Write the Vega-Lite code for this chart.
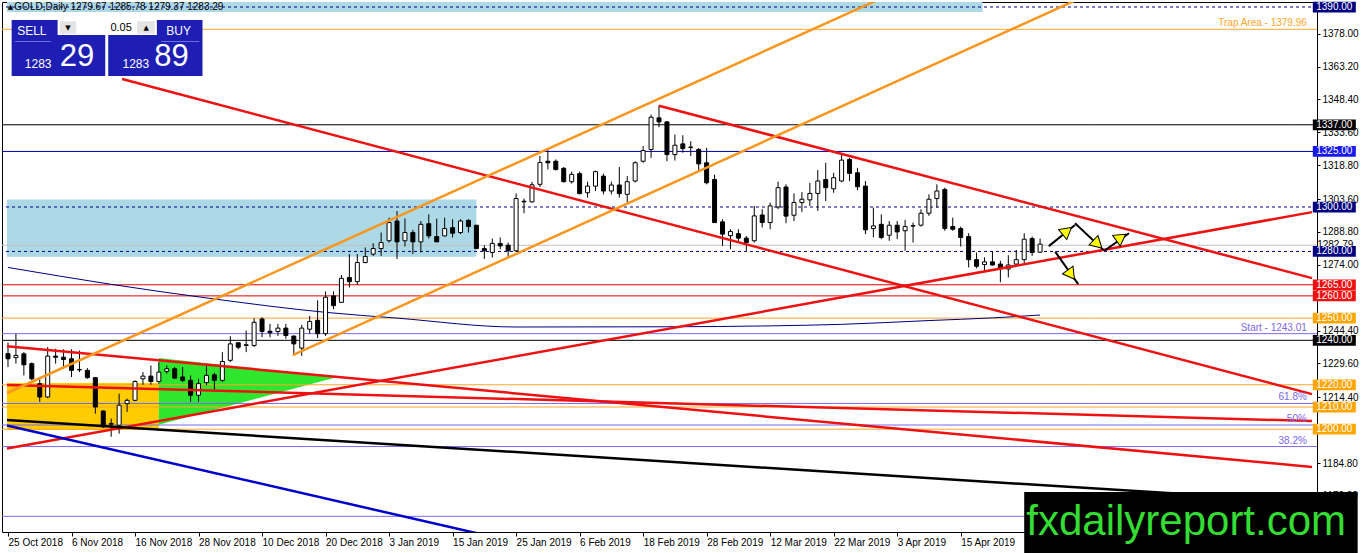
{
"$schema":"https://vega.github.io/schema/vega-lite/v6.json",
"width":1315,"height":530,
"autosize":{"type":"none"},
"padding":{"left":2,"top":2,"right":45,"bottom":21},
"background":"white",
"config":{"view":{"stroke":"black","strokeWidth":1},"font":"Liberation Sans","axis":{"grid":false,"domain":false,"labelColor":"black","tickColor":"black","labelFont":"Liberation Sans","labelFontSize":10,"labelOverlap":false},"axisY":{"labelOverlap":false},"axisX":{"labelOverlap":false}},
"datasets":{
"bars":[
{"i":0,"o":1234.0,"h":1239.0,"l":1228.0,"c":1231.7},{"i":1,"o":1232.2,"h":1242.9,"l":1229.5,"c":1233.2},{"i":2,"o":1233.9,"h":1234.7,"l":1224.2,"c":1229.0},{"i":3,"o":1229.5,"h":1230.0,"l":1222.0,"c":1222.7},{"i":4,"o":1220.5,"h":1222.7,"l":1212.3,"c":1214.5},{"i":5,"o":1214.5,"h":1237.0,"l":1214.0,"c":1232.9},{"i":6,"o":1232.9,"h":1236.2,"l":1229.5,"c":1232.4},{"i":7,"o":1232.4,"h":1236.0,"l":1227.2,"c":1231.4},{"i":8,"o":1231.7,"h":1236.0,"l":1223.5,"c":1226.5},{"i":9,"o":1226.7,"h":1235.4,"l":1225.7,"c":1226.9},
{"i":10,"o":1226.5,"h":1227.5,"l":1222.7,"c":1223.2},{"i":11,"o":1223.2,"h":1223.5,"l":1207.0,"c":1210.0},{"i":12,"o":1208.2,"h":1208.5,"l":1200.6,"c":1201.1},{"i":13,"o":1202.2,"h":1204.8,"l":1196.6,"c":1202.6},{"i":14,"o":1201.8,"h":1216.0,"l":1198.0,"c":1210.8},{"i":15,"o":1211.5,"h":1213.8,"l":1207.8,"c":1213.0},{"i":16,"o":1213.0,"h":1222.0,"l":1212.6,"c":1221.5},{"i":17,"o":1222.7,"h":1225.7,"l":1220.0,"c":1223.9},{"i":18,"o":1223.9,"h":1228.7,"l":1220.0,"c":1221.5},{"i":19,"o":1221.5,"h":1230.2,"l":1220.5,"c":1225.7},
{"i":20,"o":1226.0,"h":1228.7,"l":1225.0,"c":1227.2},{"i":21,"o":1227.2,"h":1228.0,"l":1222.7,"c":1223.0},{"i":22,"o":1223.5,"h":1228.0,"l":1221.2,"c":1222.0},{"i":23,"o":1222.0,"h":1224.2,"l":1212.3,"c":1215.3},{"i":24,"o":1215.3,"h":1222.7,"l":1212.3,"c":1220.5},{"i":25,"o":1221.0,"h":1229.5,"l":1219.8,"c":1224.2},{"i":26,"o":1224.5,"h":1225.4,"l":1216.8,"c":1222.0},{"i":27,"o":1222.0,"h":1234.7,"l":1221.2,"c":1230.5},{"i":28,"o":1231.0,"h":1241.9,"l":1230.2,"c":1238.4},{"i":29,"o":1238.9,"h":1239.2,"l":1236.0,"c":1236.9},
{"i":30,"o":1238.0,"h":1244.4,"l":1234.7,"c":1237.7},{"i":31,"o":1237.7,"h":1250.0,"l":1237.0,"c":1248.1},{"i":32,"o":1249.6,"h":1250.4,"l":1241.4,"c":1244.0},{"i":33,"o":1244.1,"h":1247.4,"l":1241.4,"c":1243.4},{"i":34,"o":1244.0,"h":1247.4,"l":1242.0,"c":1245.5},{"i":35,"o":1245.5,"h":1247.4,"l":1240.7,"c":1242.2},{"i":36,"o":1241.9,"h":1242.2,"l":1233.2,"c":1238.4},{"i":37,"o":1236.5,"h":1247.0,"l":1233.0,"c":1245.5},{"i":38,"o":1245.0,"h":1251.0,"l":1243.0,"c":1248.5},{"i":39,"o":1249.0,"h":1258.0,"l":1241.0,"c":1243.0},
{"i":40,"o":1243.0,"h":1262.0,"l":1242.0,"c":1259.4},{"i":41,"o":1260.0,"h":1262.0,"l":1254.0,"c":1255.6},{"i":42,"o":1257.1,"h":1269.4,"l":1257.1,"c":1267.9},{"i":43,"o":1268.3,"h":1278.8,"l":1263.8,"c":1266.4},{"i":44,"o":1266.4,"h":1278.8,"l":1265.0,"c":1275.0},{"i":45,"o":1275.0,"h":1281.8,"l":1274.7,"c":1277.7},{"i":46,"o":1278.8,"h":1283.7,"l":1278.0,"c":1281.3},{"i":47,"o":1281.3,"h":1288.5,"l":1278.0,"c":1284.0},{"i":48,"o":1284.8,"h":1295.2,"l":1284.0,"c":1293.0},{"i":49,"o":1293.7,"h":1298.2,"l":1276.6,"c":1284.3},
{"i":50,"o":1284.8,"h":1294.8,"l":1282.2,"c":1288.5},{"i":51,"o":1288.5,"h":1289.7,"l":1278.8,"c":1284.3},{"i":52,"o":1284.3,"h":1293.7,"l":1279.5,"c":1292.2},{"i":53,"o":1292.5,"h":1296.7,"l":1285.8,"c":1287.0},{"i":54,"o":1286.7,"h":1294.8,"l":1284.3,"c":1284.3},{"i":55,"o":1287.0,"h":1295.2,"l":1286.7,"c":1290.3},{"i":56,"o":1290.7,"h":1294.5,"l":1286.3,"c":1288.2},{"i":57,"o":1288.5,"h":1294.5,"l":1287.8,"c":1293.7},{"i":58,"o":1294.0,"h":1294.5,"l":1288.5,"c":1291.2},{"i":59,"o":1291.8,"h":1291.9,"l":1281.0,"c":1281.3},
{"i":60,"o":1281.3,"h":1282.8,"l":1276.6,"c":1280.3},{"i":61,"o":1279.5,"h":1285.8,"l":1277.3,"c":1283.6},{"i":62,"o":1283.6,"h":1286.3,"l":1281.0,"c":1282.5},{"i":63,"o":1282.8,"h":1284.0,"l":1277.3,"c":1280.3},{"i":64,"o":1280.3,"h":1306.1,"l":1279.8,"c":1303.8},{"i":65,"o":1302.3,"h":1303.8,"l":1297.2,"c":1302.6},{"i":66,"o":1302.3,"h":1311.3,"l":1302.0,"c":1310.0},{"i":67,"o":1310.2,"h":1323.0,"l":1309.0,"c":1320.0},{"i":68,"o":1320.6,"h":1325.9,"l":1316.9,"c":1319.9},{"i":69,"o":1320.6,"h":1321.4,"l":1316.4,"c":1316.9},
{"i":70,"o":1317.4,"h":1318.0,"l":1311.0,"c":1311.4},{"i":71,"o":1311.4,"h":1315.9,"l":1310.5,"c":1314.7},{"i":72,"o":1315.0,"h":1315.9,"l":1305.7,"c":1306.0},{"i":73,"o":1306.4,"h":1311.4,"l":1304.2,"c":1309.4},{"i":74,"o":1309.4,"h":1316.4,"l":1307.2,"c":1315.9},{"i":75,"o":1313.9,"h":1315.0,"l":1305.7,"c":1307.2},{"i":76,"o":1307.2,"h":1311.4,"l":1305.7,"c":1309.9},{"i":77,"o":1309.9,"h":1318.0,"l":1304.2,"c":1306.0},{"i":78,"o":1305.7,"h":1313.9,"l":1302.0,"c":1311.4},{"i":79,"o":1311.7,"h":1320.6,"l":1311.0,"c":1319.9},
{"i":80,"o":1320.6,"h":1327.4,"l":1319.9,"c":1325.4},{"i":81,"o":1325.9,"h":1341.6,"l":1322.1,"c":1340.4},{"i":82,"o":1340.1,"h":1345.8,"l":1335.9,"c":1338.3},{"i":83,"o":1338.3,"h":1338.6,"l":1320.6,"c":1323.6},{"i":84,"o":1323.6,"h":1332.6,"l":1320.9,"c":1327.8},{"i":85,"o":1328.4,"h":1332.3,"l":1324.4,"c":1326.3},{"i":86,"o":1326.8,"h":1329.6,"l":1322.9,"c":1327.0},{"i":87,"o":1325.9,"h":1326.5,"l":1315.9,"c":1319.4},{"i":88,"o":1319.9,"h":1326.6,"l":1310.2,"c":1310.9},{"i":89,"o":1312.4,"h":1314.6,"l":1293.0,"c":1293.0},
{"i":90,"o":1293.3,"h":1294.5,"l":1282.5,"c":1287.8},{"i":91,"o":1287.1,"h":1290.0,"l":1281.0,"c":1289.0},{"i":92,"o":1288.0,"h":1290.0,"l":1284.0,"c":1286.0},{"i":93,"o":1286.0,"h":1287.0,"l":1280.3,"c":1284.0},{"i":94,"o":1284.8,"h":1300.5,"l":1284.0,"c":1296.0},{"i":95,"o":1296.4,"h":1299.0,"l":1290.8,"c":1293.0},{"i":96,"o":1293.0,"h":1302.0,"l":1290.0,"c":1300.5},{"i":97,"o":1300.0,"h":1311.4,"l":1299.0,"c":1308.7},{"i":98,"o":1309.0,"h":1310.2,"l":1292.7,"c":1295.9},{"i":99,"o":1296.3,"h":1306.1,"l":1293.7,"c":1302.0},
{"i":100,"o":1302.0,"h":1306.7,"l":1297.8,"c":1303.5},{"i":101,"o":1303.2,"h":1310.9,"l":1300.5,"c":1306.1},{"i":102,"o":1306.1,"h":1316.6,"l":1298.2,"c":1311.7},{"i":103,"o":1312.4,"h":1319.9,"l":1302.7,"c":1308.7},{"i":104,"o":1308.2,"h":1315.4,"l":1306.4,"c":1313.2},{"i":105,"o":1311.7,"h":1324.4,"l":1311.2,"c":1321.1},{"i":106,"o":1321.4,"h":1322.1,"l":1311.7,"c":1315.1},{"i":107,"o":1315.4,"h":1317.6,"l":1307.6,"c":1309.1},{"i":108,"o":1309.4,"h":1311.7,"l":1287.8,"c":1289.7},{"i":109,"o":1290.3,"h":1299.7,"l":1286.3,"c":1291.5},
{"i":110,"o":1292.2,"h":1296.7,"l":1285.5,"c":1286.3},{"i":111,"o":1287.3,"h":1293.7,"l":1284.8,"c":1291.8},{"i":112,"o":1291.8,"h":1293.7,"l":1285.5,"c":1288.8},{"i":113,"o":1289.3,"h":1294.2,"l":1280.3,"c":1291.2},{"i":114,"o":1291.4,"h":1293.0,"l":1284.0,"c":1291.6},{"i":115,"o":1291.8,"h":1299.0,"l":1291.2,"c":1297.2},{"i":116,"o":1297.2,"h":1305.7,"l":1296.0,"c":1303.5},{"i":117,"o":1303.8,"h":1310.2,"l":1299.7,"c":1307.2},{"i":118,"o":1307.9,"h":1308.7,"l":1289.3,"c":1290.3},{"i":119,"o":1291.2,"h":1295.2,"l":1289.3,"c":1290.0},
{"i":120,"o":1290.3,"h":1291.2,"l":1282.2,"c":1286.3},{"i":121,"o":1286.7,"h":1288.2,"l":1272.8,"c":1276.3},{"i":122,"o":1276.3,"h":1279.5,"l":1272.4,"c":1273.3},{"i":123,"o":1274.1,"h":1277.3,"l":1271.3,"c":1275.3},{"i":124,"o":1275.3,"h":1279.8,"l":1273.6,"c":1273.9},{"i":125,"o":1274.3,"h":1275.8,"l":1266.1,"c":1272.4},{"i":126,"o":1272.1,"h":1278.3,"l":1268.3,"c":1273.9},{"i":127,"o":1274.3,"h":1280.7,"l":1273.6,"c":1276.3},{"i":128,"o":1276.3,"h":1288.2,"l":1274.8,"c":1285.5},{"i":129,"o":1285.8,"h":1286.7,"l":1278.0,"c":1279.5},
{"i":130,"o":1279.67,"h":1285.78,"l":1279.37,"c":1283.29}
],
"ma":[{"i":0,"p":1272.8},{"i":13,"p":1265.2},{"i":26,"p":1258.6},{"i":40,"p":1252.6},{"i":49,"p":1250.0},{"i":64,"p":1246.0},{"i":83,"p":1246.1},{"i":96,"p":1246.5},{"i":105,"p":1247.2},{"i":116,"p":1248.9},{"i":124,"p":1250.1},{"i":130,"p":1251.4}],
"trend":[
{"id":"a","k":"red","i":14.375,"p":1357.6},{"id":"a","k":"red","i":164.25,"p":1215.8},
{"id":"b","k":"red","i":82,"p":1345.6},{"id":"b","k":"red","i":164.25,"p":1268.0},
{"id":"c","k":"red","i":-0.125,"p":1191.3},{"id":"c","k":"red","i":164.25,"p":1297.7},
{"id":"d","k":"red","i":-0.125,"p":1237.3},{"id":"d","k":"red","i":164.25,"p":1183.0},
{"id":"f","k":"red","i":-0.125,"p":1219.9},{"id":"f","k":"red","i":164.25,"p":1203.7},
{"id":"o1","k":"orange","i":-0.125,"p":1216.3},{"id":"o1","k":"orange","i":110,"p":1393.9},
{"id":"o2","k":"orange","i":35.875,"p":1233.3},{"id":"o2","k":"orange","i":136,"p":1395.5},
{"id":"bk","k":"black","i":-0.125,"p":1204.1},{"id":"bk","k":"black","i":164.25,"p":1167.2},
{"id":"bl","k":"blue","i":-0.125,"p":1201.7},{"id":"bl","k":"blue","i":62,"p":1150.8}
],
"levels":[{"p":1390,"k":"nav"},{"p":1379.96,"k":"org"},{"p":1337,"k":"blk"},{"p":1325,"k":"blu"},{"p":1300,"k":"nav"},{"p":1282.79,"k":"bid"},{"p":1280,"k":"nav"},{"p":1265,"k":"red"},{"p":1260,"k":"red"},{"p":1250,"k":"org"},{"p":1243.01,"k":"fib"},{"p":1240,"k":"blk"},{"p":1220,"k":"org"},{"p":1211.6,"k":"fib"},{"p":1210,"k":"org"},{"p":1201.9,"k":"fib"},{"p":1200,"k":"org"},{"p":1192.2,"k":"fib"},{"p":1160.8,"k":"fib"}],
"boxes":[{"p":1390,"t":"1390.00","k":"nav"},{"p":1337,"t":"1337.00","k":"blk"},{"p":1325,"t":"1325.00","k":"blu"},{"p":1300,"t":"1300.00","k":"nav"},{"p":1280,"t":"1280.00","k":"nav"},{"p":1265,"t":"1265.00","k":"red"},{"p":1260,"t":"1260.00","k":"red"},{"p":1250,"t":"1250.00","k":"org"},{"p":1240,"t":"1240.00","k":"blk"},{"p":1220,"t":"1220.00","k":"org"},{"p":1210,"t":"1210.00","k":"org"},{"p":1200,"t":"1200.00","k":"org"}],
"bid":[{"p":1282.79,"t":"1282.79"}],
"bands":[{"k":"band","i":-0.125,"i2":122.75,"p":1387.8,"p2":1392.25},{"k":"band","i":-0.125,"i2":59,"p":1277.6,"p2":1303.4},{"k":"trap","i":-0.125,"i2":19,"p":1199.6,"p2":1220.8}],
"tri":[{"i":19,"top":1232.0,"bot":1202.0},{"i":41.5,"top":1223.5,"bot":1223.5}],
"arrows":[{"i0":131.1,"p0":1282.4,"i1":134.4,"p1":1291.9,"hi":133.4,"hp":1289.2,"heading":51},{"i0":134.4,"p0":1292.7,"i1":138.0,"p1":1280.6,"hi":137.25,"hp":1283.3,"heading":133},{"i0":138.1,"p0":1280.3,"i1":141.2,"p1":1288.2,"hi":140.2,"hp":1286.3,"heading":55},{"i0":131.9,"p0":1279.9,"i1":134.8,"p1":1265.3,"hi":133.9,"hp":1269.6,"heading":144}],
"notes":[{"t":"Trap Area - 1379.96","p":1379.96,"k":"org"},{"t":"Start - 1243.01","p":1243.01,"k":"fib"},{"t":"61.8%","p":1211.6,"k":"fib"},{"t":"50%","p":1201.9,"k":"fib"},{"t":"38.2%","p":1192.2,"k":"fib"}],
"panel":[{"k":"box","i":0.46,"i2":12.25,"p":1384.15,"p2":1358.95},{"k":"box","i":12.625,"i2":24.5,"p":1384.15,"p2":1358.95},{"k":"input","i":6.25,"i2":18.75,"p":1384.15,"p2":1377.4},{"k":"button","i":6.5,"i2":8.6,"p":1383.6,"p2":1378.0},{"k":"button","i":16.25,"i2":18.5,"p":1383.6,"p2":1378.0},{"k":"sep","i":0.9,"i2":5.4,"p":1374.6,"p2":1374.2},{"k":"sep","i":19.3,"i2":24.1,"p":1374.6,"p2":1374.2}],
"ptext":[{"t":"SELL","i":3.0,"p":1379.3},{"t":"BUY","i":21.5,"p":1379.3},{"t":"1283","i":3.8,"p":1364.2},{"t":"1283","i":16.1,"p":1364.2}],
"pbig":[{"t":"29","i":8.7,"p":1367.3},{"t":"89","i":20.6,"p":1367.3}],
"pglyph":[{"t":"▼","i":7.55,"p":1380.7},{"t":"▲","i":17.4,"p":1380.7},{"t":"▲","i":0.3,"p":1390.2}],
"pnum":[{"t":"0.05","i":15.6,"p":1380.4}],
"head":[{"t":"GOLD,Daily  1279.67 1285.78 1279.37 1283.29","i":0.8,"p":1390.1}],
"mark":[{"t":"fxdailyreport.com"}]
},
"layer":[
{"data":{"name":"bars"},"mark":{"type":"rule","stroke":"black","strokeWidth":1,"opacity":0},
 "encoding":{
  "x":{"field":"i","type":"quantitative","title":null,"scale":{"domain":[-0.125,164.25],"nice":false,"zero":false},
   "axis":{"orient":"bottom","values":[0,8,16,24,32,40,48,56,64,72,80,88,96,104,112,120],
   "labelExpr":"['25 Oct 2018','6 Nov 2018','16 Nov 2018','28 Nov 2018','10 Dec 2018','20 Dec 2018','3 Jan 2019','15 Jan 2019','25 Jan 2019','6 Feb 2019','18 Feb 2019','28 Feb 2019','12 Mar 2019','22 Mar 2019','3 Apr 2019','15 Apr 2019'][round(datum.value/8)]",
   "labelAlign":"left","labelBaseline":"top","title":null,"grid":false,"domain":false,"tickSize":4,"tickColor":"black","labelColor":"black","labelFont":"Liberation Sans","labelFontSize":10,"labelPadding":1,"labelOverlap":false,"labelFlush":false,"labelBound":false}},
  "y":{"field":"l","type":"quantitative","title":null,"scale":{"domain":[1153.75,1392.25],"nice":false,"zero":false},
   "axis":{"orient":"right","values":[1378,1363.2,1348.4,1333.6,1318.8,1303.6,1288.8,1274,1244.4,1229.6,1214.4,1184.8,1170],"format":".2f","title":null,"grid":false,"domain":false,"tickSize":3,"tickColor":"black","labelColor":"black","labelFont":"Liberation Sans","labelFontSize":10,"labelPadding":2,"labelOverlap":false,"labelFlush":false,"labelBound":false}},
  "y2":{"field":"h"}}},
{"data":{"name":"bands"},"mark":{"type":"rect","clip":true},
 "encoding":{"x":{"field":"i","type":"quantitative","title":null},"x2":{"field":"i2"},"y":{"field":"p","type":"quantitative","title":null},"y2":{"field":"p2"},
 "fill":{"field":"k","type":"nominal","scale":{"domain":["band","trap"],"range":["#ADD8E6","#FFCC00"]},"legend":null}}},
{"data":{"name":"tri"},"mark":{"type":"area","fill":"#2EE62E","opacity":1,"clip":true},
 "encoding":{"x":{"field":"i","type":"quantitative","title":null},"y":{"field":"top","type":"quantitative","title":null},"y2":{"field":"bot"}}},
{"data":{"name":"levels"},"mark":{"type":"rule"},
 "encoding":{"y":{"field":"p","type":"quantitative","title":null},
 "stroke":{"field":"k","type":"nominal","scale":{"domain":["nav","org","blk","blu","bid","red","fib"],"range":["#000080","#FFA52A","#000000","#0000C0","#C0C0C0","#E00000","#7B68EE"]},"legend":null},
 "strokeDash":{"field":"k","type":"nominal","scale":{"domain":["nav","org","blk","blu","bid","red","fib"],"range":[[3,3],[1,0],[1,0],[1,0],[1,0],[1,0],[1,0]]},"legend":null},
 "strokeWidth":{"field":"k","type":"nominal","scale":{"domain":["nav","org","blk","blu","bid","red","fib"],"range":[1,1,1,1,1,1,2.2]},"legend":null}}},
{"data":{"name":"ma"},"mark":{"type":"line","interpolate":"monotone","stroke":"#000080","strokeWidth":1,"clip":true},
 "encoding":{"x":{"field":"i","type":"quantitative","title":null},"y":{"field":"p","type":"quantitative","title":null}}},
{"data":{"name":"bars"},"mark":{"type":"rule","stroke":"black","strokeWidth":1},
 "encoding":{"x":{"field":"i","type":"quantitative","title":null},"y":{"field":"l","type":"quantitative","title":null},"y2":{"field":"h"}}},
{"data":{"name":"bars"},"mark":{"type":"bar","width":4,"stroke":"black","strokeWidth":1},
 "encoding":{"x":{"field":"i","type":"quantitative","title":null},"y":{"field":"o","type":"quantitative","title":null},"y2":{"field":"c"},
 "fill":{"condition":{"test":"datum.c >= datum.o","value":"white"},"value":"black"}}},
{"data":{"name":"trend"},"mark":{"type":"line","strokeWidth":2.5,"clip":true},
 "encoding":{"x":{"field":"i","type":"quantitative","title":null},"y":{"field":"p","type":"quantitative","title":null},"detail":{"field":"id"},
 "stroke":{"field":"k","type":"nominal","scale":{"domain":["red","orange","black","blue"],"range":["#EE1111","#F9961E","#000000","#0000CC"]},"legend":null}}},
{"data":{"name":"notes"},"mark":{"type":"text","align":"right","baseline":"bottom","dy":-1,"fontSize":10,"font":"Liberation Sans"},
 "encoding":{"x":{"datum":163.6,"type":"quantitative","title":null},"y":{"field":"p","type":"quantitative","title":null},"text":{"field":"t"},
 "fill":{"field":"k","type":"nominal","scale":{"domain":["org","fib"],"range":["#FFA52A","#7B68EE"]},"legend":null}}},
{"data":{"name":"arrows"},"mark":{"type":"rule","stroke":"black","strokeWidth":2},
 "encoding":{"x":{"field":"i0","type":"quantitative","title":null},"y":{"field":"p0","type":"quantitative","title":null},"x2":{"field":"i1"},"y2":{"field":"p1"}}},
{"data":{"name":"arrows"},"mark":{"type":"point","shape":"triangle-up","size":170,"filled":true,"fill":"#FFFF00","stroke":"black","strokeWidth":1,"opacity":1},
 "encoding":{"x":{"field":"hi","type":"quantitative","title":null},"y":{"field":"hp","type":"quantitative","title":null},"angle":{"field":"heading","type":"quantitative","scale":null}}},
{"data":{"name":"head"},"mark":{"type":"text","align":"left","baseline":"middle","fontSize":10,"font":"Liberation Sans","fill":"black"},
 "encoding":{"x":{"field":"i","type":"quantitative","title":null},"y":{"field":"p","type":"quantitative","title":null},"text":{"field":"t"}}},
{"data":{"name":"panel"},"mark":{"type":"rect"},
 "encoding":{"x":{"field":"i","type":"quantitative","title":null},"x2":{"field":"i2"},"y":{"field":"p","type":"quantitative","title":null},"y2":{"field":"p2"},
 "fill":{"field":"k","type":"nominal","scale":{"domain":["box","input","button","sep"],"range":["#1E1EB4","#FFFFFF","#E4E4E4","#8C8CE6"]},"legend":null}}},
{"data":{"name":"ptext"},"mark":{"type":"text","align":"center","baseline":"middle","fontSize":12,"font":"Liberation Sans","fill":"white"},
 "encoding":{"x":{"field":"i","type":"quantitative","title":null},"y":{"field":"p","type":"quantitative","title":null},"text":{"field":"t"}}},
{"data":{"name":"pbig"},"mark":{"type":"text","align":"center","baseline":"middle","fontSize":31,"font":"Liberation Sans","fill":"white"},
 "encoding":{"x":{"field":"i","type":"quantitative","title":null},"y":{"field":"p","type":"quantitative","title":null},"text":{"field":"t"}}},
{"data":{"name":"pglyph"},"mark":{"type":"text","align":"center","baseline":"middle","fontSize":7,"font":"DejaVu Sans","fill":"black"},
 "encoding":{"x":{"field":"i","type":"quantitative","title":null},"y":{"field":"p","type":"quantitative","title":null},"text":{"field":"t"}}},
{"data":{"name":"pnum"},"mark":{"type":"text","align":"right","baseline":"middle","fontSize":11,"font":"Liberation Sans","fill":"black"},
 "encoding":{"x":{"field":"i","type":"quantitative","title":null},"y":{"field":"p","type":"quantitative","title":null},"text":{"field":"t"}}},
{"data":{"name":"bid"},"mark":{"type":"text","align":"left","baseline":"middle","fontSize":10,"font":"Liberation Sans","fill":"black"},
 "encoding":{"x":{"datum":164.9,"type":"quantitative","title":null},"y":{"field":"p","type":"quantitative","title":null},"text":{"field":"t"}}},
{"data":{"name":"boxes"},"mark":{"type":"point","shape":"M-1,-0.25L1,-0.25L1,0.25L-1,0.25Z","size":1849,"filled":true,"opacity":1,"strokeWidth":0},
 "encoding":{"x":{"datum":167.06,"type":"quantitative","title":null},"y":{"field":"p","type":"quantitative","title":null},
 "fill":{"field":"k","type":"nominal","scale":{"domain":["nav","blk","blu","red","org"],"range":["#000080","#000000","#1818F0","#F01010","#FFA500"]},"legend":null}}},
{"data":{"name":"boxes"},"mark":{"type":"text","align":"center","baseline":"middle","fontSize":10,"font":"Liberation Sans","fill":"white"},
 "encoding":{"x":{"datum":167.06,"type":"quantitative","title":null},"y":{"field":"p","type":"quantitative","title":null},"text":{"field":"t"}}},
{"data":{"name":"mark"},"mark":{"type":"rect","fill":"black"},
 "encoding":{"x":{"datum":128,"type":"quantitative","title":null},"x2":{"datum":170},"y":{"datum":1171.7,"type":"quantitative","title":null},"y2":{"datum":1144}}},
{"data":{"name":"mark"},"mark":{"type":"text","align":"center","baseline":"middle","fontSize":42,"font":"Liberation Sans","fill":"#33DD33"},
 "encoding":{"x":{"datum":148.4,"type":"quantitative","title":null},"y":{"datum":1158.3,"type":"quantitative","title":null},"text":{"field":"t"}}}
],
"resolve":{"scale":{"fill":"independent","stroke":"independent","strokeDash":"independent","strokeWidth":"independent"}}
}
